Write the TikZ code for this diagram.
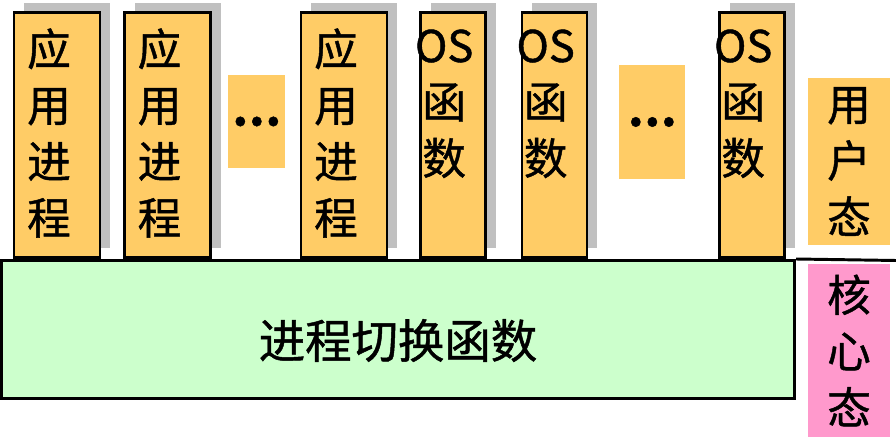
\documentclass[tikz,border=0pt]{standalone}
\usepackage{fontspec}
\setmainfont{Noto Sans CJK SC}[FakeBold=1]
\usetikzlibrary{positioning,shadows}
\definecolor{boxorange}{RGB}{255,204,102}
\definecolor{boxgreen}{RGB}{204,255,204}
\definecolor{boxpink}{RGB}{255,153,204}
\definecolor{shadowgray}{RGB}{192,192,192}
\begin{document}
\begin{tikzpicture}[x=0.025cm,y=-0.025cm,
  bigfont/.style={font=\fontsize{31}{40}\selectfont},
  tallbox/.style={draw,line width=2.1pt,fill=boxorange,minimum height=6.125cm,
    drop shadow={shadow xshift=0.26cm,shadow yshift=0.24cm,fill=shadowgray,opacity=1}},
  procbox/.style={tallbox,minimum width=2.15cm},
  osbox/.style={tallbox,minimum width=1.625cm},
  flatbox/.style={bigfont,align=center,inner sep=0pt},
  dotbox/.style={fill=boxorange,inner sep=0pt,font=\fontsize{31}{40}\selectfont\bfseries},
  boxtext/.style={bigfont,align=center,inner sep=0pt}]
\useasboundingbox (0,0) rectangle (896,438);
% upper row: processes and os functions
\node[procbox] (p1) at (57,135) {};
\node[procbox] (p2) at (167.5,135) {};
\node[dotbox,minimum width=1.425cm,minimum height=2.325cm] (d1) at (256.5,121.5) {\raisebox{-3pt}{…}};
\node[procbox] (p3) at (344,135) {};
\node[osbox] (f1) at (453,135) {};
\node[osbox] (f2) at (554.5,135) {};
\node[dotbox,minimum width=1.65cm,minimum height=2.85cm] (d2) at (652,122) {\raisebox{-3pt}{…}};
\node[osbox] (f3) at (752,135) {};
\foreach \b in {p1,p2,p3}
  \node[boxtext] (\b-txt) at ([xshift=-0.2cm,yshift=0.05cm]\b.center) {应\\用\\进\\程};
\foreach \b in {f1,f2,f3}
  \node[boxtext] (\b-txt) at ([xshift=-0.22cm,yshift=0.78cm]\b.center) {OS\\函\\数};
% kernel part
\node[draw,line width=2.1pt,fill=boxgreen,minimum width=19.825cm,minimum height=3.45cm,
  text depth=0pt,font=\fontsize{33}{40}\selectfont] (switch) at (398,329.5) {\raisebox{-13pt}{进程切换函数}};
\coordinate (lineend) at (896,260.5);
\draw[line width=2.1pt] (switch.north east) -- (lineend);
% mode labels
\node[flatbox,fill=boxorange,minimum width=2.05cm,minimum height=4.175cm] (user) at (849,161.5) {用\\户\\态};
\node[flatbox,fill=boxpink,minimum width=2.05cm,minimum height=4.325cm] (kernel) at (849,350.5) {核\\心\\态};
\end{tikzpicture}
\end{document}
